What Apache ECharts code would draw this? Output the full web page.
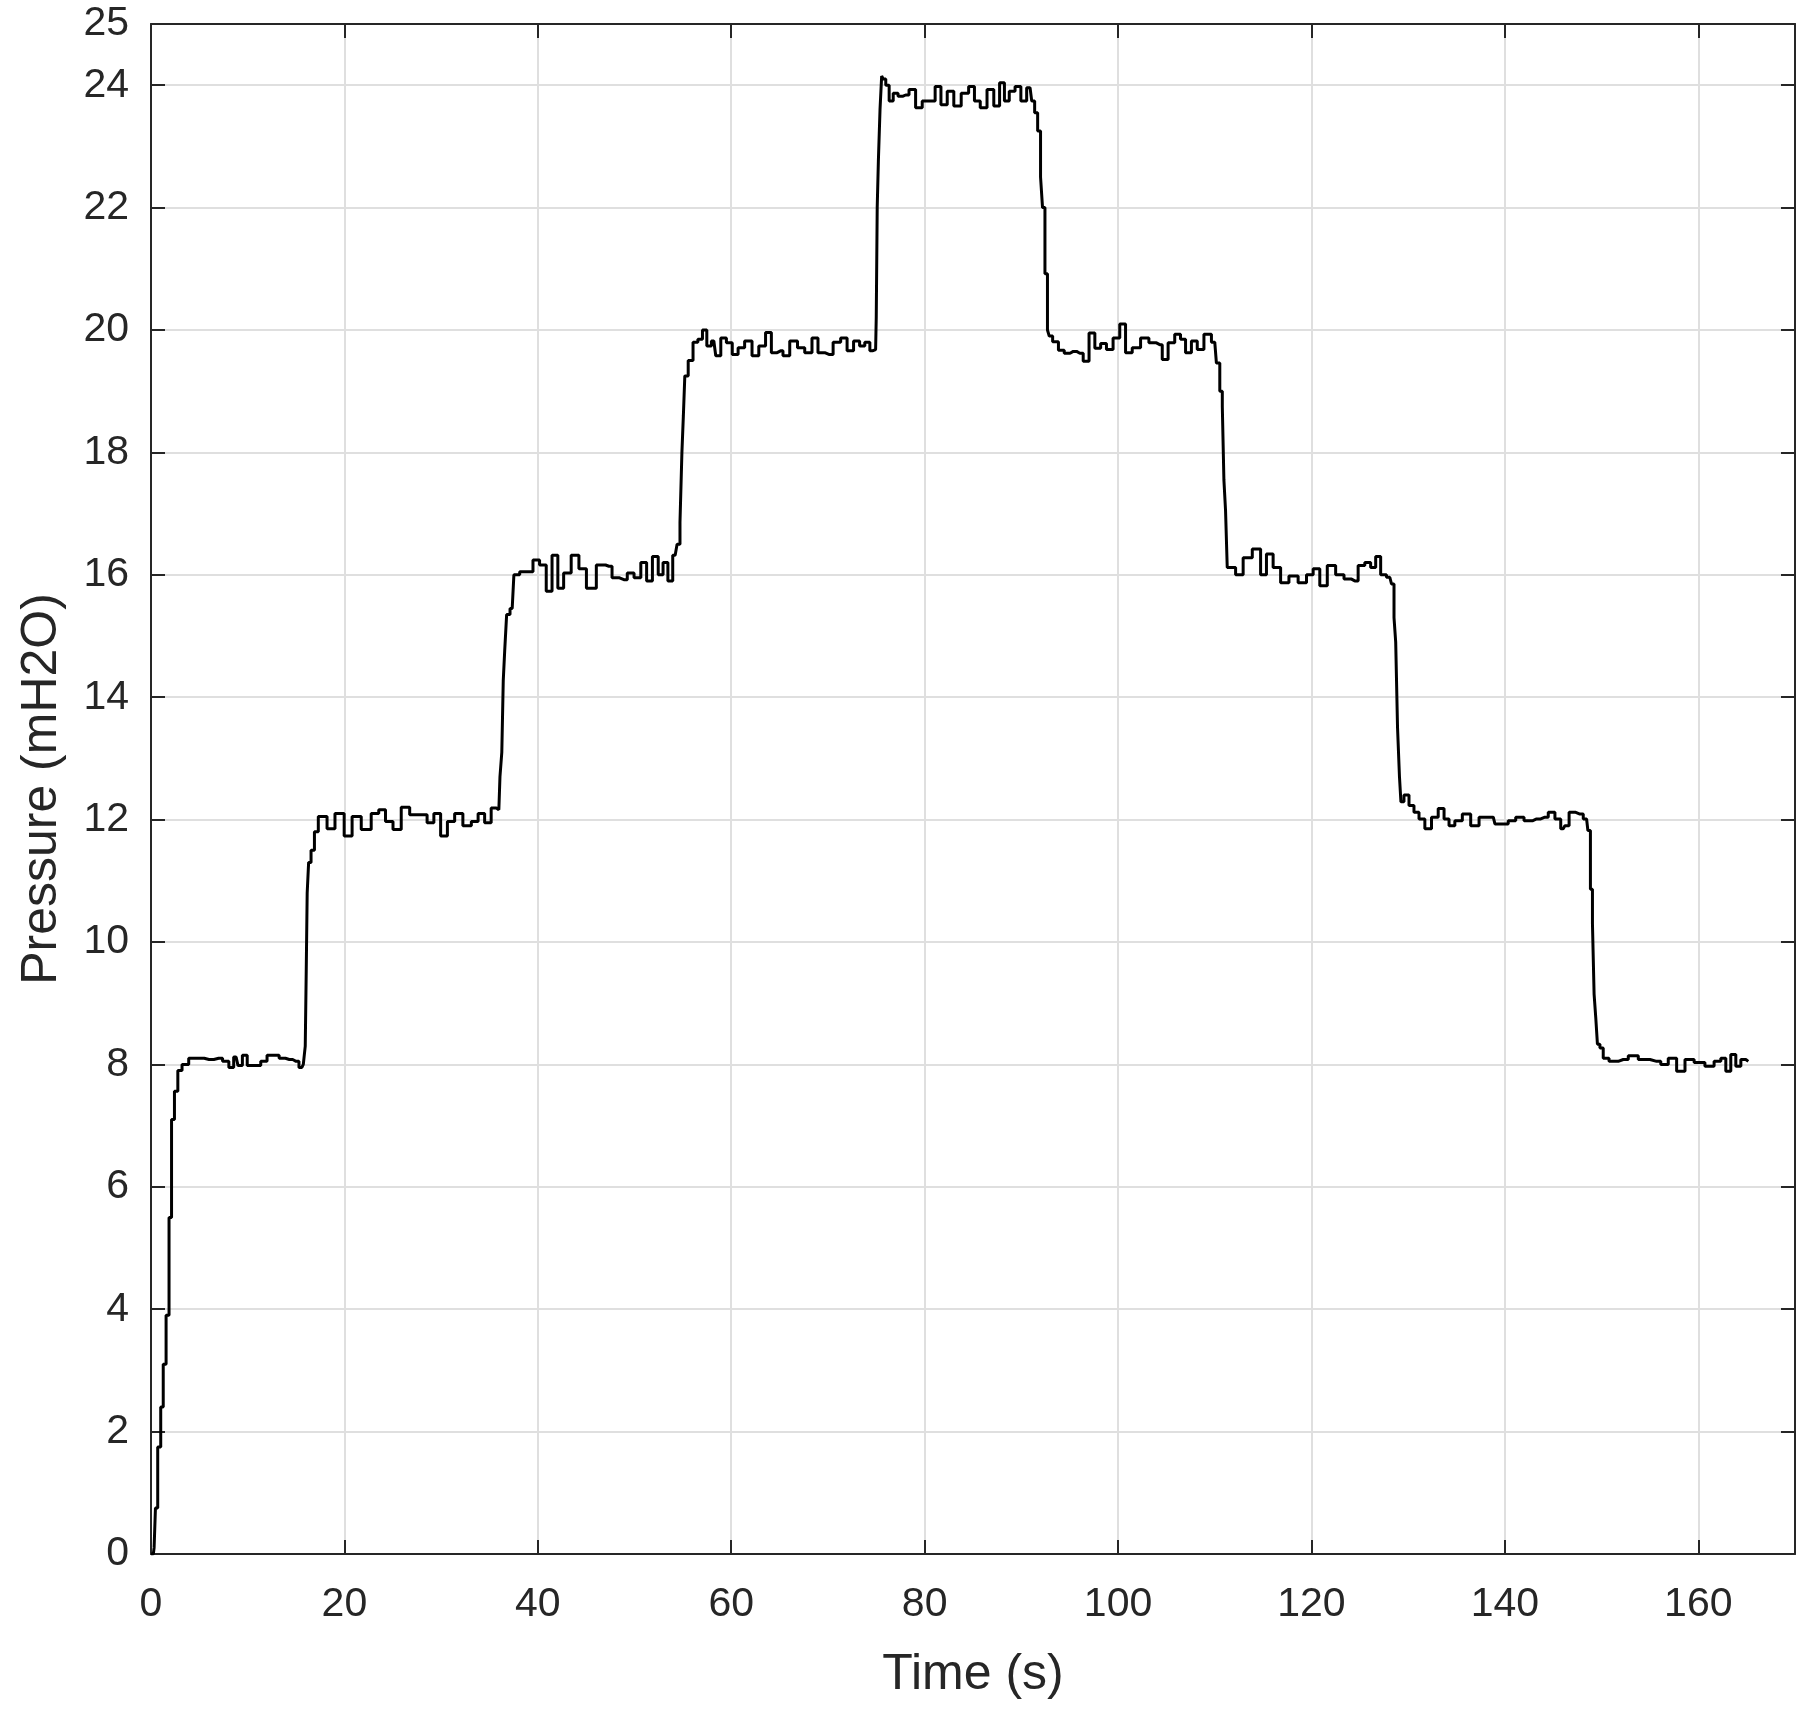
<!DOCTYPE html>
<html>
<head>
<meta charset="utf-8">
<script src="https://cdn.jsdelivr.net/npm/echarts@6/dist/echarts.min.js"></script>
<style>
  html, body { margin: 0; padding: 0; background: #fff; }
  #main { width: 1817px; height: 1714px; }
</style>
</head>
<body>
<div id="main"></div>
<script>
// time (s) and pressure (mH2O)
const time = [
  0, 0.24, 0.4, 0.52, 0.87, 1.14, 1.39, 1.73, 2.0, 2.25, 2.6, 2.95, 3.47, 4.33, 5.0, 6.0, 7.0, 7.8, 8.3, 8.8,
  9.2, 9.7, 10.2, 11.0, 11.7, 12.3, 13.0, 13.5, 14.3, 15.0, 15.6, 15.9, 16.0, 16.1, 16.2, 16.4, 16.7, 17.1, 17.5,
  17.86, 18.55, 19.5, 20.45, 21.14, 22.34, 23.2, 23.9, 24.6, 25.45, 26.3, 27.2, 28.2, 28.9, 29.6, 30.3, 31.0,
  31.8, 32.7, 33.55, 34.1, 34.9, 35.45, 35.97, 36.2, 36.35, 36.5, 36.65, 36.9, 37.35, 37.7,
  38.55, 39.24, 39.76, 40.6, 41.14, 41.8, 42.34, 43.0, 43.9, 44.6, 45.45, 46.65, 47.35, 48.0, 48.9, 49.6, 50.3,
  51.0, 51.5, 52.2, 52.7, 53.2, 53.7, 54.2, 54.6, 54.8, 55.0, 55.1, 55.3, 55.8, 56.3, 56.8, 57.25, 57.7, 58.2,
  58.6, 59.24, 59.76, 60.45, 60.97, 61.8, 62.5, 63.2, 63.9, 64.4, 65.1, 65.6, 66.5, 67.2, 68.0, 68.7, 69.24,
  70.1, 70.97, 71.66, 72.3, 73.0, 73.55, 74.07, 74.6, 74.93, 75.06, 75.13, 75.3, 75.47, 75.64, 75.8, 76.16,
  76.5, 77.0, 77.5, 78.04, 78.73, 79.4, 80.1, 80.8, 81.37, 82.0, 82.67, 83.36, 84.2, 84.9, 85.4, 86.1, 86.8,
  87.5, 88.0, 88.5, 89.0, 89.7, 90.2, 90.9, 91.25, 91.5, 91.87, 92.1, 92.28, 92.6, 92.8, 92.97, 93.5, 94.17,
  94.7, 95.37, 96.05, 96.74, 97.26, 97.94, 98.46, 99.14, 99.83, 100.52, 101.03, 101.9, 102.76, 103.62, 104.31,
  104.83, 105.52, 106.2, 106.72, 107.24, 107.93, 108.45, 109.31, 110.0, 110.34, 110.7, 110.86, 111.03, 111.2,
  111.38, 111.72, 112.59, 113.28, 114.48, 115.0, 115.69, 116.38, 117.24, 118.1, 119.14, 119.83, 120.52, 121.2,
  122.07, 122.93, 123.8, 124.48, 125.17, 125.86, 126.38, 126.9, 127.41, 128.1, 128.45, 128.62, 128.8, 129.0,
  129.2, 129.3, 129.83, 130.34, 130.86, 131.38, 132.07, 132.76, 133.45, 133.97, 134.48, 135.17, 136.03, 136.9,
  137.76, 138.8, 139.14, 140.0, 140.69, 141.55, 142.41, 143.28, 144.14, 144.83, 145.52, 146.03, 146.38, 146.9,
  147.76, 148.45, 148.72, 148.97, 149.14, 149.31, 149.48, 149.66, 150.0, 150.34, 151.2, 152.24, 153.28, 154.31,
  155.69, 156.55, 157.24, 158.28, 158.97, 160.17, 161.2, 162.07, 162.59, 163.1, 163.62, 164.14, 164.66, 165.17
];
const pressure = [
  0, 0, 0.1, 0.75, 1.75, 2.4, 3.1, 3.9, 5.5, 7.1, 7.56, 7.9, 8.0, 8.1, 8.1, 8.08, 8.1, 8.05, 7.95, 8.12,
  7.98, 8.15, 7.98, 7.98, 8.05, 8.15, 8.15, 8.1, 8.08, 8.05, 7.95, 8.0, 8.3, 9.5, 10.8, 11.3, 11.5, 11.8, 12.05,
  12.05, 11.85, 12.1, 11.73, 12.05, 11.84, 12.1, 12.16, 11.97, 11.84, 12.2, 12.08, 12.08, 11.95, 12.1, 11.73, 11.97,
  12.1, 11.9, 11.97, 12.1, 11.95, 12.19, 12.16, 12.7, 13.1, 14.27, 14.76, 15.35, 15.45, 16.0,
  16.05, 16.05, 16.24, 16.16, 15.73, 16.32, 15.78, 16.03, 16.32, 16.1, 15.78, 16.16, 16.14, 15.95, 15.92, 16.03, 15.95,
  16.2, 15.9, 16.3, 16.0, 16.2, 15.9, 16.32, 16.5, 16.86, 18.0, 18.6, 19.25, 19.5, 19.8, 19.85, 20.0, 19.74, 19.82,
  19.58, 19.87, 19.79, 19.6, 19.71, 19.82, 19.58, 19.74, 19.96, 19.63, 19.66, 19.58, 19.82, 19.71, 19.63, 19.87, 19.63,
  19.6, 19.8, 19.87, 19.66, 19.82, 19.74, 19.8, 19.66, 19.68, 20.2, 22.0, 22.76, 23.6, 24.15, 24.1, 24.0,
  23.74, 23.87, 23.82, 23.84, 23.93, 23.63, 23.74, 23.74, 23.98, 23.68, 23.9, 23.66, 23.87, 23.98, 23.74, 23.63, 23.93,
  23.66, 24.04, 23.74, 23.9, 23.98, 23.74, 23.96, 23.74, 23.55, 23.25, 22.5, 22.0, 20.92, 20.0, 19.9, 19.81, 19.67,
  19.62, 19.65, 19.62, 19.49, 19.95, 19.7, 19.78, 19.68, 19.87, 20.1, 19.63, 19.71, 19.87, 19.79, 19.76,
  19.52, 19.79, 19.93, 19.85, 19.63, 19.82, 19.68, 19.93, 19.8, 19.46, 19.0, 18.75, 17.55, 17.05,
  16.12, 16.12, 16.0, 16.28, 16.42, 16.0, 16.34, 16.12, 15.87, 15.98, 15.87, 16.0, 16.1, 15.82,
  16.15, 16.0, 15.93, 15.9, 16.15, 16.2, 16.12, 16.3, 16.0, 15.96, 15.85, 15.3, 14.9, 13.5,
  12.7, 12.29, 12.4, 12.23, 12.12, 12.01, 11.85, 12.04, 12.18, 12.01, 11.9, 11.98, 12.09, 11.9,
  12.04, 12.04, 11.93, 11.93, 11.98, 12.04, 11.98, 12.01, 12.04, 12.12, 12.01, 11.85, 11.9, 12.12,
  12.09, 12.01, 11.82, 10.86, 10.3, 9.15, 8.77, 8.33, 8.27, 8.1, 8.05, 8.08, 8.14, 8.08,
  8.05, 8.0, 8.1, 7.89, 8.08, 8.03, 7.97, 8.05, 8.1, 7.89, 8.16, 7.97, 8.08, 8.05
];

const xTicks = [0, 20, 40, 60, 80, 100, 120, 140, 160];

const axisColor = '#262626';
const gridColor = '#dfdfdf';
const font = 'Liberation Sans, Arial, Helvetica, sans-serif';

const chart = echarts.init(document.getElementById('main'));

function boxAxis(extra) {
  return Object.assign({
    type: 'value',
    axisLine: { show: true, onZero: false, lineStyle: { color: axisColor, width: 2 } },
    axisTick: { show: true, inside: true, length: 14, lineStyle: { color: axisColor, width: 2 } },
    axisLabel: { show: false },
    splitLine: { show: false }
  }, extra);
}

const option = {
  animation: false,
  backgroundColor: '#fff',
  grid: { left: 151, right: 22, top: 24, bottom: 160, outerBoundsMode: 'none' },
  xAxis: [
    boxAxis({
      position: 'bottom', min: 0, max: 170, interval: 20,
      name: 'Time (s)', nameLocation: 'middle', nameGap: 96,
      nameTextStyle: { color: axisColor, fontSize: 50, fontFamily: font },
      axisLabel: {
        show: true, color: axisColor, fontSize: 41, fontFamily: font, margin: 30,
        formatter: v => xTicks.includes(v) ? String(v) : ''
      },
      splitLine: { show: true, lineStyle: { color: gridColor, width: 2 } }
    }),
    boxAxis({ position: 'top', min: 0, max: 170, interval: 20 })
  ],
  yAxis: [
    boxAxis({
      position: 'left', min: 0, max: 25, interval: 2,
      name: 'Pressure (mH2O)', nameLocation: 'middle', nameGap: 84,
      nameTextStyle: { color: axisColor, fontSize: 50, fontFamily: font },
      axisLabel: { show: true, color: axisColor, fontSize: 41, fontFamily: font, margin: 22 },
      splitLine: { show: true, lineStyle: { color: gridColor, width: 2 } }
    }),
    boxAxis({ position: 'right', min: 0, max: 25, interval: 2 })
  ],
  series: [{
    type: 'line',
    xAxisIndex: 0,
    yAxisIndex: 0,
    data: time.map((t, i) => [t, pressure[i]]),
    showSymbol: false,
    step: 'middle',
    lineStyle: { color: '#000', width: 3 }
  }]
};

chart.setOption(option);
</script>
</body>
</html>
